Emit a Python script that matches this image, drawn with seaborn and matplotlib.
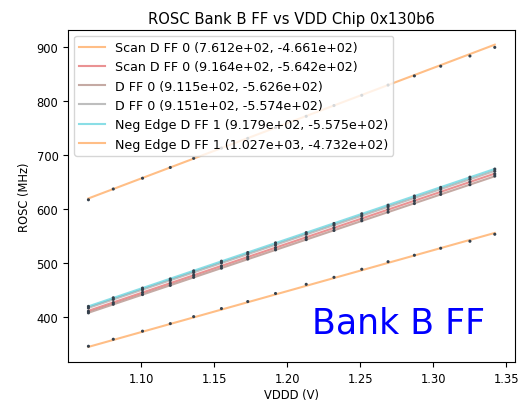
import matplotlib
matplotlib.use('Agg')
import matplotlib.pyplot as plt
import seaborn as sns
import pandas as pd

# measured supply points (V)
vddd = [1.064, 1.081, 1.101, 1.120, 1.136, 1.155, 1.173, 1.192,
        1.213, 1.232, 1.251, 1.269, 1.287, 1.305, 1.325, 1.342]

# ROSC frequency per flop type (MHz)
scan_dff0_a = [345, 358, 373, 387, 400, 415, 428, 443, 460, 473, 488, 502, 514, 527, 540, 553]
scan_dff0_b = [410, 426, 445, 462, 477, 494, 511, 528, 547, 565, 582, 599, 615, 632, 650, 665]
dff0_a = [407, 423, 441, 458, 473, 490, 507, 524, 543, 560, 578, 594, 610, 627, 645, 661]
dff0_b = [416, 432, 450, 467, 482, 500, 516, 533, 553, 570, 587, 604, 620, 637, 655, 670]
neg_dff1_a = [419, 435, 453, 470, 485, 503, 519, 537, 556, 573, 591, 607, 624, 640, 659, 674]
neg_dff1_b = [617, 637, 657, 677, 694, 713, 731, 751, 772, 792, 811, 830, 847, 865, 884, 900]

names = ['Scan D FF 0', 'Scan D FF 0', 'D FF 0', 'D FF 0', 'Neg Edge D FF 1', 'Neg Edge D FF 1']
series = [scan_dff0_a, scan_dff0_b, dff0_a, dff0_b, neg_dff1_a, neg_dff1_b]

# linear fit coefficients (slope, intercept) shown in legend
slopes = [761.2, 916.4, 911.5, 915.1, 917.9, 1027.0]
intercepts = [-466.1, -564.2, -562.6, -557.4, -557.5, -473.2]

line_colors = ['tab:orange', 'tab:red', 'tab:brown', 'tab:gray', 'tab:cyan', 'tab:orange']

fig = plt.figure(figsize=(5.24, 4.02), dpi=100)
ax = fig.add_axes([0.130, 0.097, 0.853, 0.827])

x_ends = [min(vddd), max(vddd)]
for name, vals, m, b, c in zip(names, series, slopes, intercepts, line_colors):
    fit = pd.DataFrame({'x': x_ends, 'y': [m * x_ends[0] + b, m * x_ends[1] + b]})
    label = f'{name} ({m:.3e}, {b:.3e})'
    sns.lineplot(data=fit, x='x', y='y', ax=ax, color=c, alpha=0.5, lw=1.5, label=label)

for vals in series:
    pts = pd.DataFrame({'x': vddd, 'y': vals})
    sns.scatterplot(data=pts, x='x', y='y', ax=ax, color='#34404c', s=5,
                    edgecolor='none', legend=False, zorder=3)

ax.set_title('ROSC Bank B FF vs VDD Chip 0x130b6', fontsize=10.6, pad=5)
ax.set_xlabel('VDDD (V)', fontsize=8.3, labelpad=2)
ax.set_ylabel('ROSC (MHz)', fontsize=8.3)
ax.tick_params(labelsize=8.3)
ax.text(0.545, 0.09, 'Bank B FF', transform=ax.transAxes, color='#0000ff',
        fontsize=25, ha='left', va='baseline')
ax.legend(loc='upper left', fontsize=9.1)

fig.savefig('out.png', dpi=100)
